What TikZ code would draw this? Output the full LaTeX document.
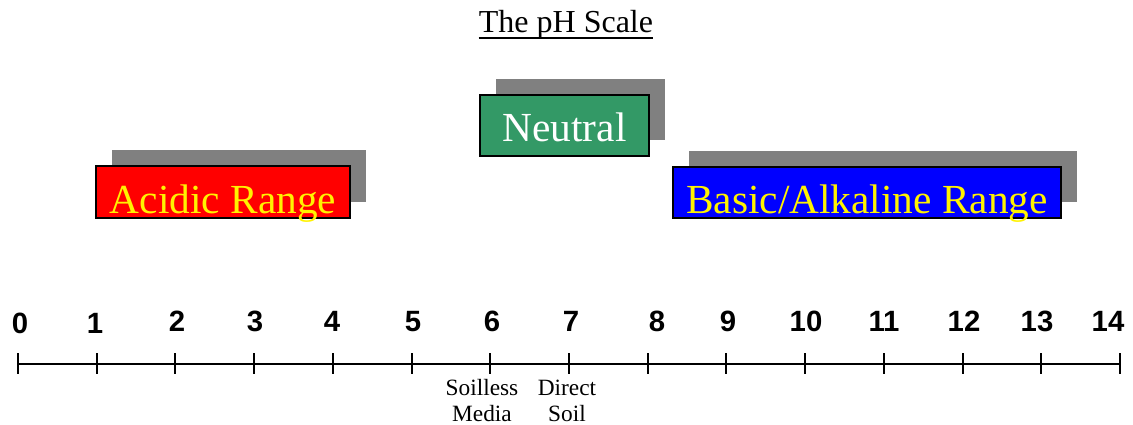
\documentclass[tikz,border=0pt]{standalone}
\usepackage{fontspec}
\setmainfont{Liberation Serif}
\newfontfamily\numfont{Liberation Sans}
\usetikzlibrary{shadows}
\definecolor{neutralgreen}{RGB}{51,153,102}
\definecolor{shadowgray}{RGB}{128,128,128}
\begin{document}
\begin{tikzpicture}[x=0.75pt,y=-0.75pt,
  rangebox/.style={draw=black,line width=2pt,inner sep=0pt,anchor=base,
    font=\fontsize{31}{36}\selectfont,
    drop shadow={shadow xshift=12pt,shadow yshift=12pt,fill=shadowgray,opacity=1}},
  numlabel/.style={anchor=base,inner sep=0pt,font=\numfont\bfseries\fontsize{22}{26}\selectfont},
  note/.style={anchor=base,inner sep=0pt,align=center,font=\fontsize{17.5}{19.5}\selectfont},
  axisline/.style={line width=1.5pt},
]
\useasboundingbox (0,0) rectangle (1133,425);

% title
\node[anchor=base,inner sep=0pt,font=\fontsize{24}{28}\selectfont] (title) at (566,32) {The pH Scale};
\draw[line width=1.5pt] ([yshift=-4.5pt]title.base west) -- ([yshift=-4.5pt]title.base east);

% range boxes
\node[rangebox,fill=red,text=yellow,text height=35.25pt,text depth=3.75pt,minimum width=190.5pt]
  (acid) at (223,213) {Acidic Range};
\node[rangebox,fill=neutralgreen,text=white,text height=34.5pt,text depth=11.25pt,minimum width=126.75pt]
  (neutral) at (564.5,141) {Neutral};
\node[rangebox,fill=blue,text=yellow,text height=34.5pt,text depth=3.75pt,minimum width=291pt]
  (basic) at (867,213) {Basic/Alkaline Range};

% axis with ticks
\foreach \i in {0,...,14}{
  \coordinate (t\i) at ({18+78.714*\i},364);
  \draw[axisline] ([yshift=8pt]t\i) -- ([yshift=-7.5pt]t\i);
}
\draw[axisline] (t0) -- (t14);

% numbers
\foreach \v/\x/\y in {0/20/333,1/95/333,2/177/331,3/255/331,4/332/331,5/413/331,6/492/331,
  7/571/331,8/657/331,9/728/331,10/806/331,11/884/331,12/964/331,13/1037/331,14/1108/331}{
  \node[numlabel] (n\v) at (\x,\y) {\v};
}

% notes under the axis (anchored at the baseline of the last line)
\node[note] (soilless) at (482,421) {Soilless\\Media};
\node[note] (direct) at (567,421) {Direct\\Soil};
\end{tikzpicture}
\end{document}
